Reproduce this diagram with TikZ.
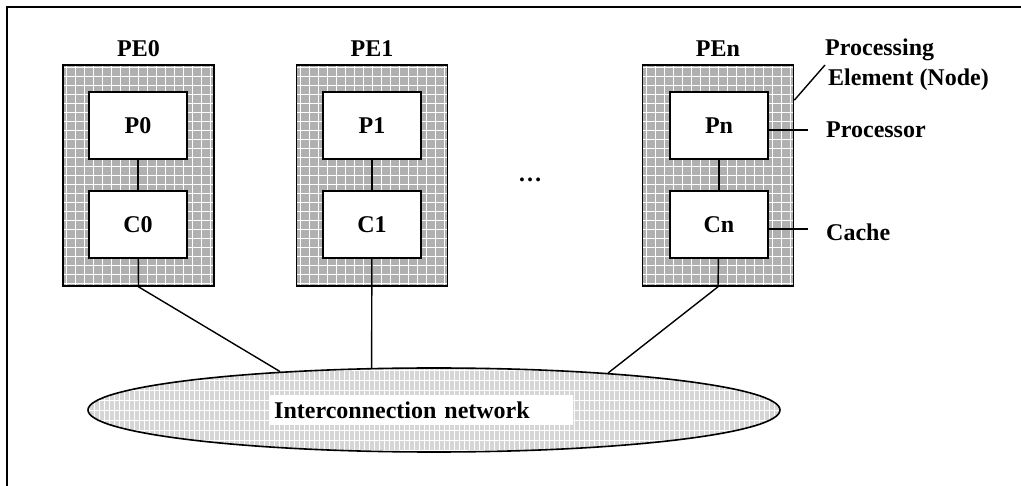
\documentclass[tikz,border=0pt]{standalone}
\usepackage{fontspec}
\setmainfont{Liberation Serif}
\usetikzlibrary{shapes.geometric}

\tikzset{
  grid fill/.style 2 args={path picture={
      \fill[#1] (path picture bounding box.south west) rectangle (path picture bounding box.north east);
      \draw[white, line width=0.9, #2] (path picture bounding box.south west) grid (path picture bounding box.north east);}},
  pebox/.style={draw, line width=1.6, minimum width=151, minimum height=221, inner sep=0, grid fill={gray!62}{step=9pt}},
  unitbox/.style={draw, fill=white, line width=1.6, minimum width=98, minimum height=67, inner sep=0, font=\fontsize{24}{28}\bfseries},
  netshape/.style={ellipse, draw, line width=1.6, minimum width=692, minimum height=84, inner sep=0, grid fill={gray!32}{xstep=5pt, ystep=10pt}},
  lbl/.style={font=\fontsize{24}{30}\bfseries, inner sep=0},
  wire/.style={line width=1.4}
}

\begin{document}
\begin{tikzpicture}[x=1pt, y=-1pt]
  \useasboundingbox (0,0) rectangle (1021,486);
  % frame (top and left edge only)
  \draw[line width=2] (7,486) -- (7,7) -- (1021,7);

  % processing elements
  \node[pebox] (pe0) at (138.5,175.5) {};
  \node[pebox] (pe1) at (372,175.5) {};
  \node[pebox] (pen) at (718,175.5) {};
  \node[lbl] (pe0lbl) at (138.5,49) {PE0};
  \node[lbl] (pe1lbl) at (372,49) {PE1};
  \node[lbl] (penlbl) at (718,49) {PEn};

  \node[unitbox] (p0) at (138,125.5) {P0};
  \node[unitbox] (c0) at (138,224.5) {C0};
  \node[unitbox] (p1) at (372,125.5) {P1};
  \node[unitbox] (c1) at (372,224.5) {C1};
  \node[unitbox] (pn) at (719,125.5) {Pn};
  \node[unitbox] (cn) at (719,224.5) {Cn};

  \node[lbl] (dots) at (530,180) {\ldots};

  % interconnection network
  \node[netshape] (net) at (434,410) {};
  \node[lbl, fill=white, anchor=west, text width=295, inner xsep=4, inner ysep=0, minimum height=30, align=left] (netlbl) at (270,410) {Interconnection network};

  \draw[wire] (p0) -- (c0);
  \draw[wire] (p1) -- (c1);
  \draw[wire] (pn) -- (cn);
  \draw[wire] (c0) -- (pe0.south) -- (net.166.6);
  \draw[wire] (c1) -- (net.146.3);
  \draw[wire] (cn) -- (pen.south) -- (net.12.8);

  % labels on the right
  \node[lbl, anchor=west, align=left] (pelbl) at (825,65) {Processing\\\hspace{3pt}Element (Node)};
  \node[lbl, anchor=west] (proclbl) at (826,130) {Processor};
  \node[lbl, anchor=west] (cachelbl) at (826,232) {Cache};
  \coordinate (proctip) at (808,130);
  \coordinate (cachetip) at (808,229);
  \draw[wire] ([yshift=-36pt]pen.north east) -- (pelbl.west);
  \draw[wire] (pn.east |- proctip) -- (proctip);
  \draw[wire] (cn.east |- cachetip) -- (cachetip);
\end{tikzpicture}
\end{document}
